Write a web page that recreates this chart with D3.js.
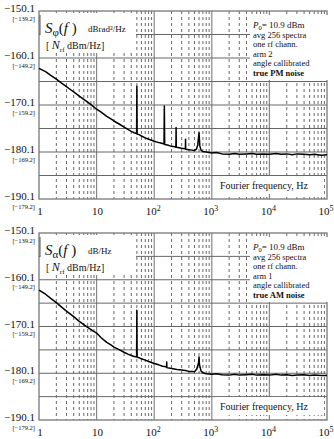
<!DOCTYPE html>
<html><head><meta charset="utf-8">
<script src="https://cdn.jsdelivr.net/npm/d3@7"></script>
<style>body{margin:0;background:#fff}svg{display:block}</style>
</head><body><svg id="c" width="334" height="439" font-family="Liberation Serif, Times New Roman, DejaVu Serif, serif"></svg>
<script>
const yTicks = [-150.1, -160.1, -170.1, -180.1, -190.1];
const yTicksRf = ["[−139.2]", "[−149.2]", "[−159.2]", "[−169.2]", "[−179.2]"];
const xDecades = [1, 10, 100, 1000, 10000, 100000];
const xDecadeLabels = ["1", "10", "10|2", "10|3", "10|4", "10|5"];

// PM noise (top panel): frequency (Hz) and dB
const pmFreq = [1,1.3,1.6,2,2.5,3,3.5,4,5,6,7,8.5,10,12,15,18,20,25,30,35,40,45,49.5,50,50.5,55,60,70,80,90,100,120,140,148,150,152,170,200,230,238,240,242,270,300,340,348,350,352,400,450,500,540,570,600,620,650,700,800,1000,1200,1500,2000,2500,3000,4000,5000,6000,8000,10000,13000,16000,20000,25000,30000,40000,50000,60000,80000,100000];
const pmVal  = [-162.3,-163.0,-163.8,-164.6,-165.5,-166.2,-166.8,-167.3,-168.2,-168.9,-169.5,-170.3,-171.0,-171.6,-172.5,-173.1,-173.5,-174.2,-174.8,-175.3,-175.7,-176.0,-176.2,-166.1,-176.3,-176.4,-176.7,-177.1,-177.4,-177.6,-177.8,-178.1,-178.3,-178.4,-170.3,-178.5,-178.6,-178.9,-179.0,-179.1,-174.9,-179.1,-179.2,-179.3,-179.4,-179.4,-177.4,-179.5,-179.6,-179.7,-179.8,-179.5,-178.6,-176.0,-178.8,-179.7,-180.0,-180.1,-180.3,-180.2,-180.5,-180.6,-180.4,-180.6,-180.5,-180.4,-180.6,-180.5,-180.6,-180.4,-180.6,-180.5,-180.7,-180.5,-180.6,-180.7,-180.6,-180.8,-180.7];

// AM noise (bottom panel)
const amFreq = [1,1.3,1.6,2,2.5,3,4,5,6,7,8.5,10,12,15,18,20,25,30,35,40,45,49.5,50,50.5,55,60,70,80,100,120,140,160,164,165,166,180,200,250,300,350,400,450,500,550,590,600,610,650,700,800,1000,1200,1500,2000,2500,3000,4000,5000,6000,8000,10000,13000,16000,20000,25000,30000,40000,50000,60000,80000,100000];
const amVal  = [-162.3,-163.2,-164.1,-165.0,-166.0,-166.8,-168.0,-169.0,-169.7,-170.3,-171.0,-171.5,-172.5,-173.5,-174.1,-174.5,-175.1,-175.6,-176.0,-176.3,-176.5,-176.6,-166.6,-176.7,-176.8,-177.0,-177.3,-177.6,-178.0,-178.3,-178.6,-178.7,-178.8,-177.7,-178.9,-179.0,-179.1,-179.3,-179.4,-179.5,-179.7,-179.7,-179.8,-179.2,-177.8,-176.6,-178.2,-179.6,-180.0,-180.2,-180.3,-180.2,-180.4,-180.5,-180.3,-180.5,-180.4,-180.3,-180.5,-180.4,-180.5,-180.3,-180.5,-180.4,-180.6,-180.5,-180.4,-180.6,-180.5,-180.6,-180.6];

const panels = [
  {top:11, bottom:199, freq:pmFreq, val:pmVal, sym:"φ", unit:"dBrad²/Hz", arm:"arm 2", noise:"true PM noise"},
  {top:233, bottom:420, freq:amFreq, val:amVal, sym:"α", unit:"dB/Hz", arm:"arm 1", noise:"true AM noise"}
];

const svg = d3.select("#c");
const FONT = "Liberation Serif, Times New Roman, DejaVu Serif, serif";
const x = d3.scaleLog().domain([1,1e5]).range([39,327]);

const minors = [];
for (let d=1; d<1e5; d*=10) for (let k=2;k<=9;k++) minors.push(d*k);
const hLines = d3.range(-155.1, -189, -5).map(v=>+v.toFixed(1));

function txt(g, xx, yy, size){
  return g.append("text").attr("x",xx).attr("y",yy).attr("font-size",size).attr("font-family",FONT).attr("fill","#111");
}

panels.forEach(p=>{
  const y = d3.scaleLinear().domain([-190.1,-150.1]).range([p.bottom,p.top]);
  const g = svg.append("g");
  g.selectAll(".mv").data(minors).join("line")
    .attr("x1",d=>x(d)).attr("x2",d=>x(d)).attr("y1",p.top).attr("y2",p.bottom)
    .attr("stroke","#444").attr("stroke-width",0.8).attr("stroke-dasharray","3,3");
  g.selectAll(".dv").data(xDecades.slice(1,-1)).join("line")
    .attr("x1",d=>x(d)).attr("x2",d=>x(d)).attr("y1",p.top).attr("y2",p.bottom)
    .attr("stroke","#888").attr("stroke-width",1.2);
  g.selectAll(".hl").data(hLines).join("line")
    .attr("x1",x(1)).attr("x2",x(1e5)).attr("y1",d=>y(d)).attr("y2",d=>y(d))
    .attr("stroke","#666").attr("stroke-width",1);
  g.append("rect").attr("x",x(1)).attr("y",p.top).attr("width",x(1e5)-x(1)).attr("height",p.bottom-p.top)
    .attr("fill","none").attr("stroke","#777").attr("stroke-width",1.3);

  yTicks.forEach((v,i)=>{
    txt(g,35,y(v)+1,11).attr("text-anchor","end").text(v.toFixed(1).replace("-","−"));
    txt(g,35,y(v)+9.5,6.5).attr("text-anchor","end").text(yTicksRf[i]);
  });
  xDecades.forEach((d,i)=>{
    const [b,e] = xDecadeLabels[i].split("|");
    const t = txt(g,x(d)+(e?-1:1),p.bottom+16,11).attr("text-anchor","middle");
    t.append("tspan").text(b);
    if (e) t.append("tspan").attr("dy",-4).attr("font-size",8).text(e);
  });

  g.append("rect").attr("x",40).attr("y",p.top+2).attr("width",96).attr("height",40).attr("fill","#fff");
  g.append("line").attr("x1",40).attr("x2",40).attr("y1",p.top+4).attr("y2",p.top+24).attr("stroke","#555");
  const tt = txt(g,45,p.top+22,15);
  tt.append("tspan").attr("font-style","italic").text("S");
  tt.append("tspan").attr("font-size",11).attr("dy",3).text(p.sym);
  tt.append("tspan").attr("dy",-3).text("(");
  tt.append("tspan").attr("font-style","italic").text("f");
  tt.append("tspan").text(" )");
  txt(g,88,p.top+21,9).text(p.unit);
  const t2 = txt(g,46,p.top+38,10);
  t2.append("tspan").text("[ ");
  t2.append("tspan").attr("font-style","italic").attr("font-size",12).text("N");
  t2.append("tspan").attr("font-size",7).attr("dy",3).text("rf");
  t2.append("tspan").attr("dy",-3).text("  dBm/Hz]");

  g.append("rect").attr("x",250).attr("y",p.top+4).attr("width",80).attr("height",65).attr("fill","#fff");
  const lx = 253;
  const offs = [17,26.5,36,45.5,55,64.5];
  const l1 = txt(g,lx,p.top+offs[0],9);
  l1.append("tspan").attr("font-style","italic").text("P");
  l1.append("tspan").attr("font-size",6.5).attr("dy",2).text("0");
  l1.append("tspan").attr("dy",-2).text("= 10.9 dBm");
  const lines = ["avg 256 spectra","one rf chann.",p.arm,"angle callibrated"];
  lines.forEach((s,i)=>{ txt(g,lx,p.top+offs[i+1],8.5).text(s); });
  txt(g,lx,p.top+offs[5],8.5).attr("font-weight","bold").text(p.noise);

  g.append("rect").attr("x",216).attr("y",p.bottom-23).attr("width",108).attr("height",18).attr("fill","#fff");
  txt(g,220,p.bottom-10,10).text("Fourier frequency, Hz");

  const pts = p.freq.map((f,i)=>[f,p.val[i]]);
  g.append("path").datum(pts)
    .attr("d",d3.line().x(d=>x(d[0])).y(d=>y(d[1])))
    .attr("fill","none").attr("stroke","#000").attr("stroke-width",1.5).attr("stroke-linejoin","round");
});
</script></body></html>
